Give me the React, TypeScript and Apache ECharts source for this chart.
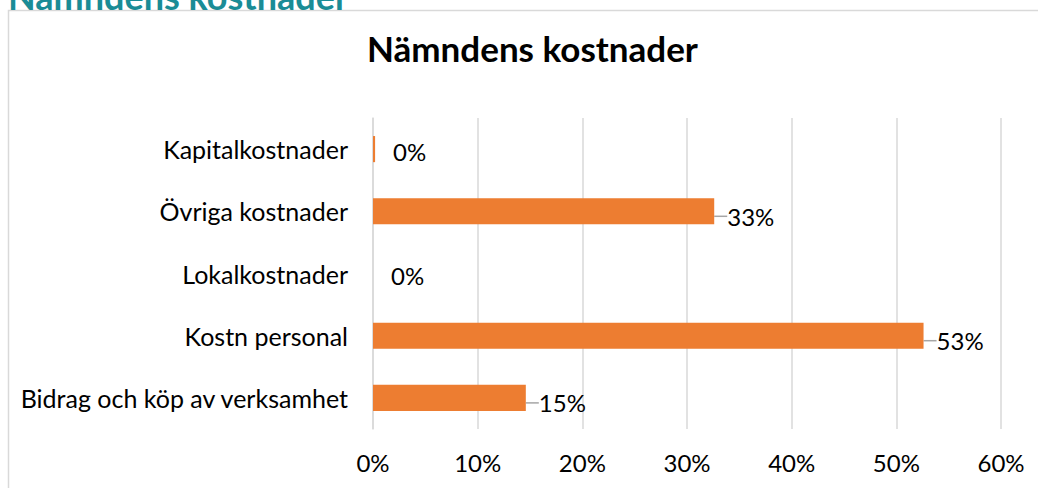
import React, { useEffect, useRef } from "react";
import * as echarts from "echarts";

const categories = [
  "Bidrag och köp av verksamhet",
  "Kostn personal",
  "Lokalkostnader",
  "Övriga kostnader",
  "Kapitalkostnader",
];
const values = [14.6, 52.6, 0, 32.6, 0.2];
const xTicks = [0, 10, 20, 30, 40, 50, 60];

const FONT = "Lato, 'Open Sans', sans-serif";

export default function App() {
  const ref = useRef<HTMLDivElement>(null);
  useEffect(() => {
    if (!ref.current) return;
    const chart = echarts.init(ref.current, undefined, { renderer: "svg" });
    chart.setOption({
      animation: false,
      backgroundColor: "#ffffff",
      title: {
        text: "Nämndens kostnader",
        left: 362,
        top: 25,
        textStyle: { fontFamily: FONT, fontSize: 35, fontWeight: "bold", color: "#000" },
      },
      graphic: [
        {
          type: "rect",
          shape: { x: 8.5, y: 10.5, width: 1100, height: 600 },
          style: { fill: "none", stroke: "#d9d9d9", lineWidth: 1.5 },
          silent: true,
        },
        {
          type: "text",
          x: 8,
          y: -22,
          style: {
            text: "Nämndens kostnader",
            fontFamily: FONT,
            fontSize: 36,
            fontWeight: "bold",
            fill: "#1a8c96",
            verticalAlign: "top",
          },
          silent: true,
        },
      ],
      grid: { left: 373, right: 37, top: 118, bottom: 59, containLabel: false },
      xAxis: {
        type: "value",
        min: xTicks[0],
        max: xTicks[xTicks.length - 1],
        interval: 10,
        axisLine: { show: false },
        axisTick: { show: false },
        splitLine: { show: true, lineStyle: { color: "#d9d9d9", width: 1.5 } },
        axisLabel: {
          formatter: (v: number) => `${v}%`,
          fontFamily: FONT,
          fontSize: 24,
          color: "#000",
          margin: 21,
        },
      },
      yAxis: {
        type: "category",
        data: categories,
        axisLine: { show: true, lineStyle: { color: "#d9d9d9", width: 1.5 } },
        axisTick: { show: false },
        axisLabel: { fontFamily: FONT, fontSize: 25, color: "#000", margin: 25 },
      },
      series: [
        {
          type: "bar",
          data: values.map((v) => ({
            value: v,
            labelLine: { show: v >= 1 },
          })),
          barWidth: "42%",
          itemStyle: { color: "#ed7d31" },
          label: {
            show: true,
            position: "right",
            distance: 4,
            formatter: (p: any) => `${Math.round(p.value)}%`,
            fontFamily: FONT,
            fontSize: 24,
            color: "#000",
          },
          labelLine: { show: true, lineStyle: { color: "#a6a6a6", width: 1.5 } },
          labelLayout: (p: any) => {
            const v = values[p.dataIndex];
            if (v < 1) return { dx: 14, dy: 2 };
            return { dx: 9, dy: 5 };
          },
        },
      ],
    });
    return () => chart.dispose();
  }, []);
  return (
    <div
      ref={ref}
      style={{ position: "absolute", left: 0, top: 0, width: 1038, height: 488 }}
    />
  );
}
